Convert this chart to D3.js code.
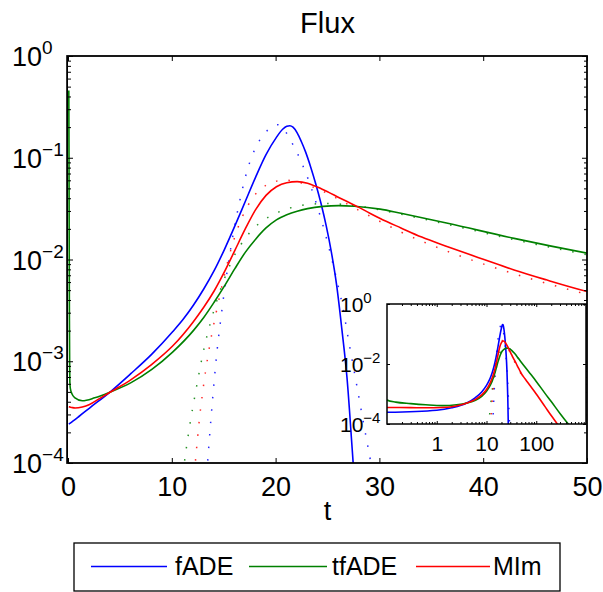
<!DOCTYPE html>
<html>
<head>
<meta charset="utf-8">
<script src="https://cdn.jsdelivr.net/npm/d3@7"></script>
<style>
  html, body { margin: 0; padding: 0; background: #fff; }
  svg { display: block; font-family: "Liberation Sans", Arial, Helvetica, sans-serif; }
</style>
</head>
<body>
<svg id="chart" width="603" height="592"></svg>
<script>
// ---- series: [t, flux] ----
const fadeLine = [
  [0, 2.415e-4], [0.1, 2.455e-4], [1, 2.88e-4], [2, 3.47e-4], [4, 5.01e-4], [6, 7.59e-4],
  [8, 1.175e-3], [10, 1.95e-3], [11, 2.57e-3], [12, 3.55e-3], [13, 5.13e-3], [14, 7.76e-3],
  [15, 0.01259], [16, 0.02138], [17, 0.03715], [18, 0.06457], [19, 0.1072], [20, 0.1585],
  [20.6, 0.1905], [21.0, 0.2042], [21.3, 0.2065], [21.6, 0.1995], [22.0, 0.1758],
  [22.4, 0.1445], [22.8, 0.1148], [23.3, 0.0813], [23.8, 0.05495], [24.3, 0.03548],
  [24.8, 0.02138], [25.3, 0.01175], [25.8, 5.62e-3], [26.3, 2.09e-3], [26.8, 6.92e-4],
  [27.3, 1.38e-4], [27.8, 2.51e-5]
];
const tfadeLine = [
  [0, 0.457], [0.02, 0.1], [0.04, 0.0126], [0.06, 2.51e-3], [0.08, 1.0e-3], [0.1, 6.31e-4],
  [0.15, 5.37e-4], [0.3, 4.79e-4], [0.6, 4.37e-4], [1.3, 4.09e-4], [2.5, 4.37e-4],
  [4.05, 5.01e-4], [6, 6.17e-4], [8, 8.32e-4], [10, 1.23e-3], [12, 2.0e-3], [13, 2.69e-3],
  [14, 3.80e-3], [15, 5.50e-3], [16, 8.13e-3], [17, 0.01175], [18, 0.01585], [19, 0.02042],
  [20, 0.02455], [21, 0.02754], [22, 0.02985], [23, 0.03162], [24.5, 0.03327], [26, 0.03388],
  [27.5, 0.03342], [30, 0.03126], [32, 0.02844], [36.5, 0.0227], [42.9, 0.01614],
  [50, 0.01151], [70, 5.62e-3], [100, 2.63e-3], [150, 1.05e-3], [200, 5.62e-4],
  [300, 2.24e-4], [440, 1.0e-4], [600, 5.01e-5]
];
const mimLine = [
  [0, 3.57e-4], [0.1, 3.55e-4], [0.3, 3.51e-4], [0.6, 3.47e-4], [1.3, 3.55e-4], [2, 3.76e-4],
  [3, 4.32e-4], [4.05, 5.01e-4], [6, 6.61e-4], [8, 9.33e-4], [10, 1.41e-3], [12, 2.45e-3],
  [13, 3.39e-3], [14, 4.90e-3], [15, 7.59e-3], [16, 0.0123], [17, 0.01995], [18, 0.0309],
  [19, 0.04266], [20, 0.05188], [21, 0.05689], [22, 0.05821], [23, 0.05623], [24, 0.05129],
  [25, 0.04592], [26, 0.04074], [27, 0.03631], [28, 0.03236], [29, 0.02851], [30, 0.02529],
  [32, 0.02042], [34, 0.0166], [36.5, 0.01337], [40, 0.01], [42.9, 7.89e-3], [46, 6.31e-3],
  [50, 4.83e-3], [60, 3.16e-3], [75, 1.91e-3], [100, 1.0e-3], [150, 3.80e-4], [200, 1.91e-4],
  [265, 1.0e-4], [350, 5.01e-5]
];
const fadeDots = [
  [13.3, 7.94e-5], [13.45, 1.29e-4], [13.7, 2.75e-4], [14.0, 6.31e-4], [14.3, 1.32e-3],
  [14.65, 2.63e-3], [15.0, 5.01e-3], [15.4, 9.55e-3], [15.8, 0.01698], [16.25, 0.02951],
  [16.7, 0.04786], [17.2, 0.07586], [18.0, 0.1259], [18.8, 0.1698], [19.5, 0.1995],
  [20.1, 0.2113], [20.6, 0.1995], [21.2, 0.1585], [21.9, 0.1175], [22.35, 0.09333],
  [22.8, 0.07244], [23.2, 0.05623], [23.6, 0.04266], [24.3, 0.02512], [25.0, 0.0138],
  [25.7, 7.08e-3], [26.4, 3.39e-3], [27.0, 1.51e-3], [27.8, 5.37e-4], [28.45, 2.29e-4],
  [29.1, 1.0e-4], [29.6, 4.79e-5]
];
const tfadeDots = [
  [11.0, 7.94e-5], [11.3, 1.35e-4], [11.7, 2.51e-4], [12.2, 4.90e-4], [12.6, 8.13e-4],
  [13.04, 1.35e-3], [13.6, 2.29e-3], [14.1, 3.47e-3], [14.7, 5.37e-3], [15.3, 7.76e-3],
  [15.9, 0.01072], [16.6, 0.01413], [17.4, 0.0182], [18.4, 0.02291], [19.2, 0.026],
  [20.3, 0.02951], [21.3, 0.03199], [22.4, 0.03404], [23.5, 0.03508], [24.6, 0.03556],
  [25.7, 0.03532], [26.85, 0.03451], [28, 0.03342], [30.06, 0.03055], [32, 0.02786],
  [36.5, 0.02213], [42.9, 0.01567], [50, 0.01109]
];
const mimDots = [
  [12.1, 7.94e-5], [12.3, 1.35e-4], [12.55, 2.51e-4], [12.9, 5.01e-4], [13.45, 1.20e-3],
  [14.2, 3.02e-3], [14.96, 6.76e-3], [15.6, 0.0123], [16.25, 0.01995], [17.2, 0.03311],
  [17.85, 0.04217], [18.65, 0.0507], [19.6, 0.05715], [20.75, 0.06026], [21.9, 0.05848],
  [23.0, 0.05395], [25.1, 0.04365], [26.2, 0.03802], [28.1, 0.02985], [30.06, 0.02344],
  [32, 0.01862], [36.5, 0.01202], [42.9, 7.24e-3], [50, 4.52e-3]
];

// ---- labels and ticks ----
const xTicks = [0, 10, 20, 30, 40, 50];
const yDecades = [-4, -3, -2, -1, 0];
const insetXTicks = [1, 10, 100];
const insetYDecades = [-4, -2, 0];
const legendNames = ["fADE", "tfADE", "MIm"];
const seriesColors = ["#0000ff", "#008000", "#ff0000"];
const titleText = "Flux";
const xLabel = "t";

const svg = d3.select("#chart");
const FONT = '"Liberation Sans", Arial, Helvetica, sans-serif';

// ---- main axes ----
const M = { left: 68, right: 587, top: 56, bottom: 463 };
const x = d3.scaleLinear().domain([0, 50]).range([M.left, M.right]);
const y = d3.scaleLog().domain([1e-4, 1]).range([M.bottom, M.top]);

const minorVals = [];
for (let e = -4; e < 0; e++) for (let k = 2; k <= 9; k++) minorVals.push(k * Math.pow(10, e));
const majorVals = yDecades.map(e => Math.pow(10, e));

const defs = svg.append("defs");
defs.append("clipPath").attr("id", "mainClip")
  .append("rect").attr("x", M.left - 1).attr("y", M.top)
  .attr("width", M.right - M.left + 1).attr("height", M.bottom - M.top);

const mainG = svg.append("g").attr("clip-path", "url(#mainClip)");
const lineMain = d3.line().x(d => x(d[0]) + 0.8).y(d => y(Math.max(d[1], 1e-7))).curve(d3.curveMonotoneX);

const solids = [fadeLine, tfadeLine, mimLine];
const dotted = [fadeDots, tfadeDots, mimDots];
const DOT_DASH = "1.5,11";

dotted.forEach((s, i) => {
  mainG.append("path").datum(s).attr("d", lineMain)
    .attr("fill", "none").attr("stroke", seriesColors[i])
    .attr("stroke-width", 1.5).attr("stroke-dasharray", DOT_DASH).attr("opacity", 0.85);
});
solids.forEach((s, i) => {
  mainG.append("path").datum(s).attr("d", lineMain)
    .attr("fill", "none").attr("stroke", seriesColors[i]).attr("stroke-width", 1.6);
});

function styleAxis(g) {
  g.select(".domain").remove();
  g.selectAll(".tick line").attr("stroke", "#000").attr("stroke-width", 1);
}

// bottom / top
svg.append("g").attr("transform", `translate(0,${M.bottom})`)
  .call(d3.axisBottom(x).tickValues(xTicks).tickSize(-5).tickSizeOuter(0).tickPadding(14))
  .call(styleAxis)
  .call(g => g.selectAll("text").attr("font-size", 27).attr("font-family", FONT).attr("fill", "#000"));
svg.append("g").attr("transform", `translate(0,${M.top})`)
  .call(d3.axisTop(x).tickValues(xTicks).tickSize(-5).tickSizeOuter(0).tickFormat(""))
  .call(styleAxis);

// left / right majors + minors
[["L", M.left], ["R", M.right]].forEach(([side, px]) => {
  const mk = side === "L" ? d3.axisLeft : d3.axisRight;
  svg.append("g").attr("transform", `translate(${px},0)`)
    .call(mk(y).tickValues(majorVals).tickSize(-5).tickSizeOuter(0).tickFormat(""))
    .call(styleAxis);
  svg.append("g").attr("transform", `translate(${px},0)`)
    .call(mk(y).tickValues(minorVals).tickSize(-3).tickSizeOuter(0).tickFormat(""))
    .call(styleAxis);
});

// power-of-ten labels: "10" with a raised exponent
function powerLabel(g, xStart, yPos, exp, size, supSize, supRise) {
  const t = g.append("text").attr("x", xStart).attr("y", yPos)
    .attr("font-size", size).attr("font-family", FONT).attr("fill", "#000");
  t.append("tspan").text("10");
  t.append("tspan").attr("font-size", supSize).attr("dy", -supRise)
    .text(exp < 0 ? "\u2212" + (-exp) : String(exp));
  return t;
}
const yLab = svg.append("g");
yDecades.forEach(e => {
  powerLabel(yLab, 12, y(Math.pow(10, e)) + 10, e, 27, 19, 12);
});

// frame (left edge sits just outside x = 0)
svg.append("rect").attr("x", M.left - 0.9).attr("y", M.top)
  .attr("width", M.right - M.left + 0.9).attr("height", M.bottom - M.top)
  .attr("fill", "none").attr("stroke", "#000").attr("stroke-width", 1.8);

// title & x label
svg.append("text").attr("x", (M.left + M.right) / 2).attr("y", 33)
  .attr("text-anchor", "middle").attr("font-size", 29).attr("font-family", FONT).text(titleText);
svg.append("text").attr("x", (M.left + M.right) / 2).attr("y", 520)
  .attr("text-anchor", "middle").attr("font-size", 27).attr("font-family", FONT).text(xLabel);

// ---- inset (log-log) ----
const I = { left: 387, right: 586, top: 304, bottom: 424 };
const ix = d3.scaleLog().domain([0.1, 1000]).range([I.left, I.right]);
const iy = d3.scaleLog().domain([1e-4, 1]).range([I.bottom, I.top]);

svg.append("rect").attr("x", I.left).attr("y", I.top)
  .attr("width", I.right - I.left).attr("height", I.bottom - I.top).attr("fill", "#fff");

defs.append("clipPath").attr("id", "insetClip")
  .append("rect").attr("x", I.left).attr("y", I.top)
  .attr("width", I.right - I.left).attr("height", I.bottom - I.top);

const insetG = svg.append("g").attr("clip-path", "url(#insetClip)");
const lineInset = d3.line().x(d => ix(d[0])).y(d => iy(Math.max(d[1], 1e-7))).curve(d3.curveMonotoneX);
dotted.forEach((s, i) => {
  insetG.append("path").datum(s.filter(d => d[0] > 0)).attr("d", lineInset)
    .attr("fill", "none").attr("stroke", seriesColors[i])
    .attr("stroke-width", 1.5).attr("stroke-dasharray", DOT_DASH).attr("opacity", 0.85);
});
solids.forEach((s, i) => {
  insetG.append("path").datum(s.filter(d => d[0] > 0)).attr("d", lineInset)
    .attr("fill", "none").attr("stroke", seriesColors[i]).attr("stroke-width", 1.6);
});

const insetMinorX = [];
for (let e = -1; e < 3; e++) for (let k = 2; k <= 9; k++) insetMinorX.push(k * Math.pow(10, e));

svg.append("g").attr("transform", `translate(0,${I.bottom})`)
  .call(d3.axisBottom(ix).tickValues(insetXTicks).tickSize(-3).tickSizeOuter(0).tickPadding(12)
    .tickFormat(d3.format("d")))
  .call(styleAxis)
  .call(g => g.selectAll("text").attr("font-size", 21).attr("font-family", FONT).attr("fill", "#000"));
svg.append("g").attr("transform", `translate(0,${I.top})`)
  .call(d3.axisTop(ix).tickValues(insetXTicks).tickSize(-3).tickSizeOuter(0).tickFormat(""))
  .call(styleAxis);
[I.bottom, I.top].forEach((py, k) => {
  svg.append("g").attr("transform", `translate(0,${py})`)
    .call((k === 0 ? d3.axisBottom : d3.axisTop)(ix).tickValues(insetMinorX).tickSize(-2).tickSizeOuter(0).tickFormat(""))
    .call(styleAxis);
});
const insetMajorY = insetYDecades.map(e => Math.pow(10, e));
svg.append("g").attr("transform", `translate(${I.left},0)`)
  .call(d3.axisLeft(iy).tickValues(insetMajorY).tickSize(-3).tickSizeOuter(0).tickFormat(""))
  .call(styleAxis);
svg.append("g").attr("transform", `translate(${I.right},0)`)
  .call(d3.axisRight(iy).tickValues(insetMajorY).tickSize(-3).tickSizeOuter(0).tickFormat(""))
  .call(styleAxis);

const iyLab = svg.append("g");
insetYDecades.forEach(e => {
  powerLabel(iyLab, 340, iy(Math.pow(10, e)) + 8, e, 21, 15, 9);
});

svg.append("rect").attr("x", I.left).attr("y", I.top)
  .attr("width", I.right - I.left).attr("height", I.bottom - I.top)
  .attr("fill", "none").attr("stroke", "#000").attr("stroke-width", 1.5);

// ---- legend ----
const leg = svg.append("g");
leg.append("rect").attr("x", 74).attr("y", 543).attr("width", 486).attr("height", 48)
  .attr("fill", "#fff").attr("stroke", "#000").attr("stroke-width", 1.3);
const legItems = [
  { x1: 91, x2: 167, tx: 175 },
  { x1: 249, x2: 327, tx: 332 },
  { x1: 416, x2: 490, tx: 493 }
];
legItems.forEach((it, i) => {
  leg.append("line").attr("x1", it.x1).attr("x2", it.x2).attr("y1", 566.5).attr("y2", 566.5)
    .attr("stroke", seriesColors[i]).attr("stroke-width", 1.3);
  leg.append("text").attr("x", it.tx).attr("y", 575).attr("font-size", 25)
    .attr("font-family", FONT).text(legendNames[i]);
});
</script>
</body>
</html>
